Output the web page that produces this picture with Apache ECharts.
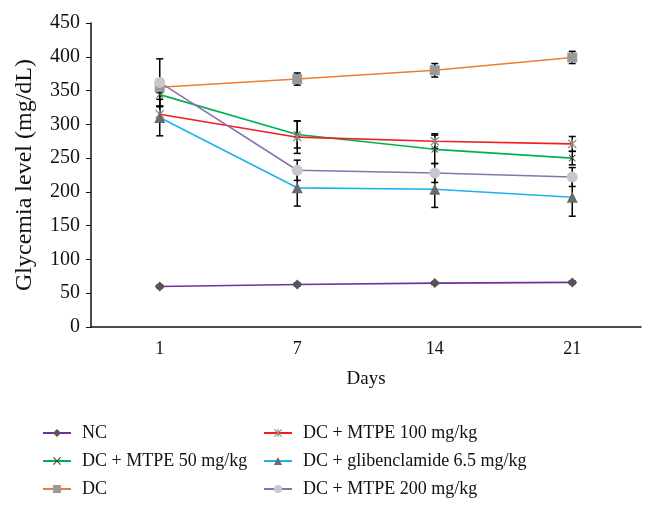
<!DOCTYPE html>
<html>
<head>
<meta charset="utf-8">
<script src="https://cdn.jsdelivr.net/npm/echarts@6/dist/echarts.min.js"></script>
<style>
  html, body { margin: 0; padding: 0; background: #fff; }
  #chart { width: 668px; height: 509px; }
</style>
</head>
<body>
<div id="chart"></div>
<script>
// days on the x axis
const days = ['1', '7', '14', '21'];

// mean glycemia (mg/dL) per group
const nc = [60, 63, 65, 66];
const mtpe50 = [344, 285, 263, 250];
const dc = [355, 367, 380, 399];
const mtpe100 = [315, 281, 275, 271];
const glib = [310, 206, 204, 192];
const mtpe200 = [362, 232, 228, 222];

// error bar half-widths
const errNc = [2, 2, 2, 2];
const errMtpe50 = [18, 20, 21, 10];
const errDc = [8, 9, 10, 9];
const errMtpe100 = [12, 24, 11, 11];
const errGlib = [27, 27, 27, 28];
const errMtpe200 = [35, 15, 14, 14];

const xMark = 'path://M0,1L1,0L5,4L9,0L10,1L6,5L10,9L9,10L5,6L1,10L0,9L4,5Z';
const starMark = 'path://M0,1L1,0L5,4L9,0L10,1L6,5L10,9L9,10L5,6L1,10L0,9L4,5ZM4.3,0L5.7,0L5.7,10L4.3,10Z';

const groups = [
    {name: 'NC', data: nc, err: errNc, line: '#7030A0', mark: '#555555', symbol: 'diamond', size: 10},
    {name: 'DC + MTPE 50 mg/kg', data: mtpe50, err: errMtpe50, line: '#00B050', mark: '#444444', symbol: xMark, size: 7},
    {name: 'DC', data: dc, err: errDc, line: '#ED7D31', mark: '#999999', symbol: 'rect', size: 10},
    {name: 'DC + MTPE 100 mg/kg', data: mtpe100, err: errMtpe100, line: '#F01E1E', mark: '#8a8a8a', symbol: starMark, size: 9},
    {name: 'DC + glibenclamide 6.5 mg/kg', data: glib, err: errGlib, line: '#1CB2EC', mark: '#6a6a6a', symbol: 'triangle', size: 11},
    {name: 'DC + MTPE 200 mg/kg', data: mtpe200, err: errMtpe200, line: '#8A72B0', mark: '#c8c8c8', symbol: 'circle', size: 11}
];

const serif = 'Liberation Serif';

// error bars: [category index, low, high]
const errData = [];
groups.forEach(g => {
    g.data.forEach((v, i) => {
        errData.push([i, v - g.err[i], v + g.err[i]]);
    });
});

const series = groups.map(g => ({
    name: g.name,
    type: 'line',
    data: g.data,
    symbol: g.symbol,
    symbolSize: g.size,
    z: 3,
    lineStyle: {color: g.line, width: 1.6},
    itemStyle: {color: g.mark},
    emphasis: {disabled: true}
}));

series.push({
    type: 'custom',
    z: 2,
    data: errData,
    renderItem: function (params, api) {
        const lo = api.coord([api.value(0), api.value(1)]);
        const hi = api.coord([api.value(0), api.value(2)]);
        const w = 3.5;
        const st = {stroke: '#000', lineWidth: 1.5};
        return {
            type: 'group',
            children: [
                {type: 'line', shape: {x1: lo[0], y1: lo[1], x2: hi[0], y2: hi[1]}, style: st},
                {type: 'line', shape: {x1: lo[0] - w, y1: lo[1], x2: lo[0] + w, y2: lo[1]}, style: st},
                {type: 'line', shape: {x1: hi[0] - w, y1: hi[1], x2: hi[0] + w, y2: hi[1]}, style: st}
            ]
        };
    }
});

const legendBase = {
    orient: 'vertical',
    top: 418,
    itemWidth: 28,
    itemHeight: 10,
    itemGap: 8,
    selectedMode: false,
    textStyle: {fontFamily: serif, fontSize: 18, color: '#111', lineHeight: 20, padding: [0, 0, 0, 6]}
};

const chart = echarts.init(document.getElementById('chart'));
chart.setOption({
    animation: false,
    backgroundColor: '#fff',
    grid: {left: 91, right: 27, top: 23, bottom: 182},
    legend: [
        Object.assign({}, legendBase, {left: 37, data: [groups[0].name, groups[1].name, groups[2].name]}),
        Object.assign({}, legendBase, {left: 258, data: [groups[3].name, groups[4].name, groups[5].name]})
    ],
    xAxis: {
        type: 'category',
        data: days,
        name: 'Days',
        nameLocation: 'middle',
        nameGap: 43,
        nameTextStyle: {fontFamily: serif, fontSize: 19, color: '#111'},
        axisLine: {lineStyle: {color: '#111', width: 1.5}},
        axisTick: {length: 5, lineStyle: {color: '#111'}},
        axisLabel: {fontFamily: serif, fontSize: 18, color: '#111', margin: 13}
    },
    yAxis: {
        type: 'value',
        min: 0,
        max: 450,
        interval: 50,
        name: 'Glycemia level (mg/dL)',
        nameLocation: 'middle',
        nameGap: 54,
        nameTextStyle: {fontFamily: serif, fontSize: 24, color: '#111'},
        axisLine: {show: true, lineStyle: {color: '#111', width: 1.5}},
        axisTick: {show: true, length: 5, lineStyle: {color: '#111'}},
        axisLabel: {fontFamily: serif, fontSize: 20, color: '#111', margin: 11},
        splitLine: {show: false}
    },
    series: series
});
</script>
</body>
</html>
